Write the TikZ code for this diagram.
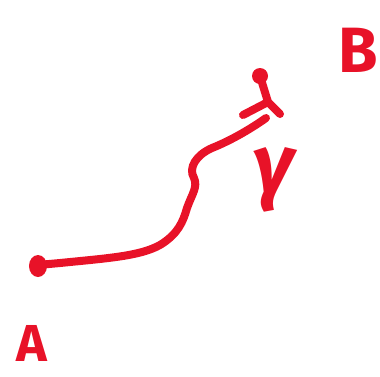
\documentclass[tikz,border=0pt]{standalone}
\usepackage{fontspec}
\setmainfont{Fira Sans}
\definecolor{ink}{RGB}{232,18,40}
\begin{document}
\begin{tikzpicture}[x=1pt,y=-1pt,
  stroke/.style={draw=ink,line width=8pt,line cap=round,line join=round},
  lbl/.style={text=ink,inner sep=0pt,font=\fontsize{#1}{#1}\selectfont\bfseries}]
\useasboundingbox (0,0) rectangle (380,376);
\coordinate (start) at (38,265);
\coordinate (tip) at (260,76);
\coordinate (end) at (266,118);
% start dot
\fill[ink] (38,266) ellipse (9 and 11);
% curve
\draw[stroke] (start) -- (60,263) .. controls (110,258) and (140,256) .. (160,245)
  .. controls (178,234) and (183,222) .. (187,208)
  .. controls (192,194) and (198,187) .. (194,178)
  .. controls (188,168) and (196,155) .. (212,148)
  .. controls (232,140) and (252,128) .. (end);
% arrowhead
\fill[ink] (tip) circle (8);
\draw[stroke] (tip) -- (268,102) -- (280,114);
\draw[stroke] (243,115) -- (268,102);
% labels
\node[lbl=84] (gamma) at (273,180) {\itshape γ};
\node[lbl=64] (B) at (358,50) {B};
\node[lbl=52] (A) at (32,343) {A};
\end{tikzpicture}
\end{document}
